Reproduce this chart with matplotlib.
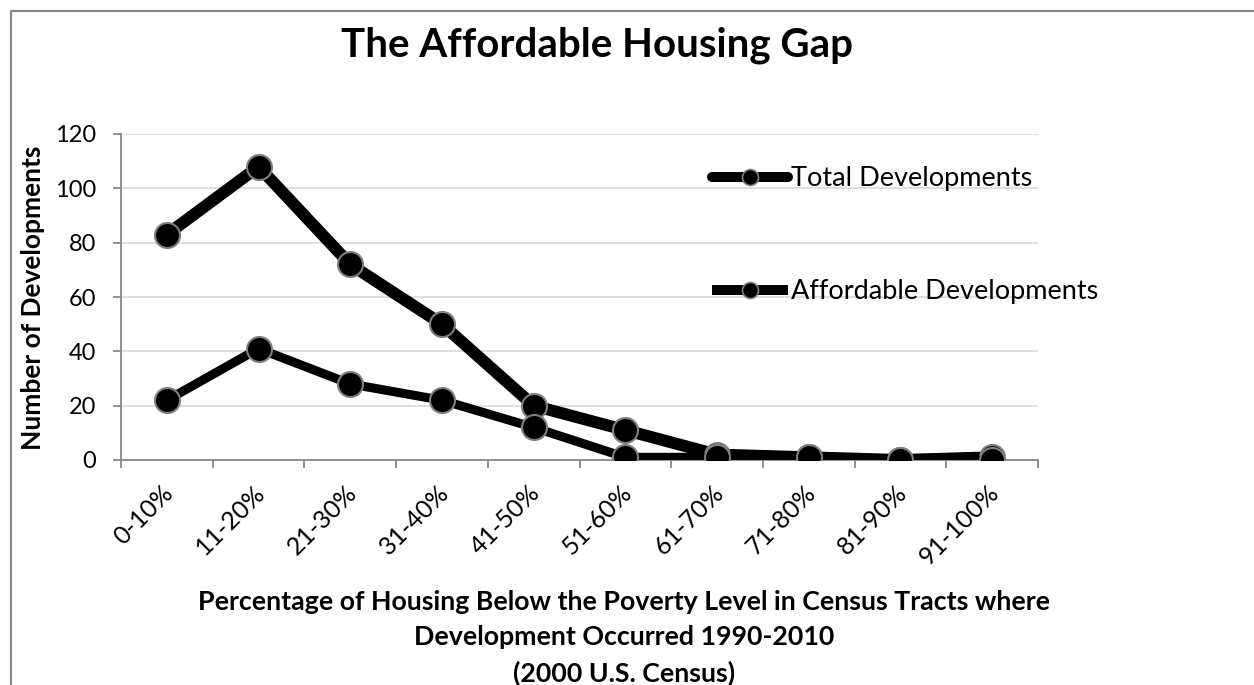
import matplotlib
matplotlib.use("Agg")
import matplotlib.pyplot as plt
import matplotlib.transforms as mtransforms
from matplotlib.lines import Line2D
import numpy as np

categories = ["0-10%", "11-20%", "21-30%", "31-40%", "41-50%",
              "51-60%", "61-70%", "71-80%", "81-90%", "91-100%"]
total_devs = [83, 108, 72, 50, 20, 11, 2, 1, 0, 1]
affordable_devs = [22, 41, 28, 22, 12, 1, 1, 1, 0, 0]
y_ticks = [0, 20, 40, 60, 80, 100, 120]

plt.rcParams['font.family'] = ['Lato', 'DejaVu Sans']

W, H = 1254, 685
fig = plt.figure(figsize=(W / 100, H / 100), dpi=100)
ax = fig.add_axes([121 / W, 1 - 460 / H, (1038 - 121) / W, (460 - 134) / H])

x = np.arange(len(categories))
ax.plot(x, total_devs, color='black', lw=8.6, solid_joinstyle='round',
        marker='o', ms=18, mfc='black', mec='#7f7f7f', mew=1.5, zorder=3)
ax.plot(x, affordable_devs, color='black', lw=6.5, solid_joinstyle='round',
        marker='o', ms=18, mfc='black', mec='#7f7f7f', mew=1.5, zorder=4)

ax.set_xlim(-0.5, len(categories) - 0.5)
ax.set_ylim(0, 120)
ax.set_yticks(y_ticks)
ax.set_xticks(x)
ax.set_xticks(np.arange(len(categories) + 1) - 0.5, minor=True)
ax.grid(axis='y', color='#d9d9d9', lw=1.2, zorder=0)
ax.set_axisbelow(True)

for s in ['top', 'right']:
    ax.spines[s].set_visible(False)
for s in ['left', 'bottom']:
    ax.spines[s].set_color('#888888')
    ax.spines[s].set_linewidth(1.3)

ax.tick_params(axis='y', length=6, width=1.3, color='#888888', labelsize=17, pad=12)
ax.tick_params(axis='x', which='major', length=0, pad=21)
ax.tick_params(axis='x', which='minor', length=6, width=1.3, color='#888888')
ax.set_xticklabels(categories, rotation=45, ha='right', va='center',
                   rotation_mode='anchor', fontsize=18)
offset = mtransforms.ScaledTranslation(3 / 100, 0, fig.dpi_scale_trans)
for lab in ax.get_xticklabels():
    lab.set_transform(lab.get_transform() + offset)

fig.text(597 / W, 1 - 45 / H, "The Affordable Housing Gap", ha='center', va='center',
         fontsize=29, fontweight='bold')
fig.text(33 / W, 1 - 298 / H, "Number of Developments", rotation=90, ha='center',
         va='center', fontsize=19, fontweight='bold')
fig.text(624 / W, 1 - 638 / H,
         "Percentage of Housing Below the Poverty Level in Census Tracts where\n"
         "Development Occurred 1990-2010\n(2000 U.S. Census)",
         ha='center', va='center', fontsize=19.3, fontweight='bold', linespacing=1.55)

h_total = Line2D([], [], color='black', lw=7.2, solid_capstyle='round', marker='o',
                 ms=11.5, mfc='black', mec='#7f7f7f', mew=1.2)
h_aff = Line2D([], [], color='black', lw=7.2, solid_capstyle='butt', marker='o',
               ms=11.5, mfc='black', mec='#7f7f7f', mew=1.2)
fig.legend([h_total, h_aff], ["Total Developments", "Affordable Developments"],
           loc='upper left', bbox_to_anchor=(712 / W, 1 - 166 / H), frameon=False,
           fontsize=19.5, handlelength=2.8, handletextpad=0.1, labelspacing=3.25,
           borderpad=0, borderaxespad=0, numpoints=1)

# chart border (left and top edges visible)
fig.add_artist(Line2D([11 / W, 11 / W, 1.0], [0, 1 - 11 / H, 1 - 11 / H],
                      transform=fig.transFigure, color='#888888', lw=1.5))

fig.savefig("out.png", dpi=100)
